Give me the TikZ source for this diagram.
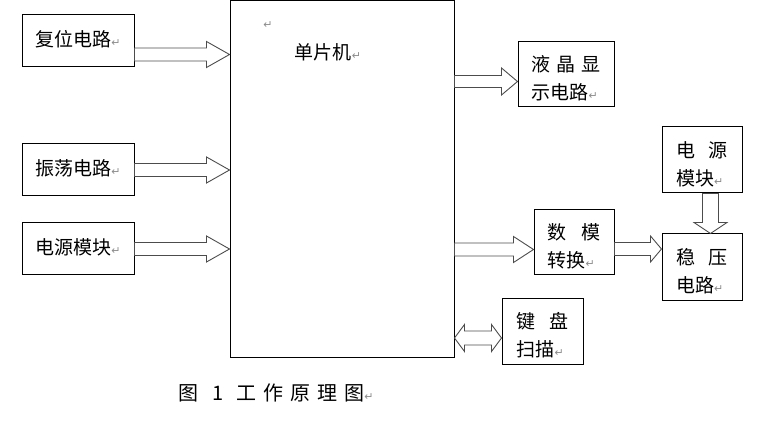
\documentclass[tikz,border=0pt]{standalone}
\usepackage{fontspec}
\setmainfont{Noto Sans CJK SC}
\newfontfamily\dejavu{DejaVu Sans}
\usetikzlibrary{calc}
\newcommand{\ret}{{\dejavu\fontsize{11}{11}\selectfont\color{black!45}↵}}
\tikzset{
  hl/.store in=\arrhl, hw/.store in=\arrhw, sw/.store in=\arrsw,
  hl=23pt, hw=13pt, sw=6.5pt,
  box/.style={draw, line width=1pt, inner sep=0pt},
  txt/.style={inner sep=0pt, align=left, font=\fontsize{19}{28}\selectfont},
  fat/.style={draw=black!70, line width=0.9pt, to path={
    let \p1=(\tikztostart), \p2=(\tikztotarget), \p3=($(\p2)!\arrhl!(\p1)$) in
    -- ($(\p1)!\arrsw!90:(\p2)$) -- ($(\p3)!\arrsw!90:(\p2)$) -- ($(\p3)!\arrhw!90:(\p2)$) -- (\p2)
    -- ($(\p3)!\arrhw!-90:(\p2)$) -- ($(\p3)!\arrsw!-90:(\p2)$) -- ($(\p1)!\arrsw!-90:(\p2)$) -- cycle}},
  fatboth/.style={draw=black!70, line width=0.9pt, to path={
    let \p1=(\tikztostart), \p2=(\tikztotarget), \p3=($(\p1)!\arrhl!(\p2)$), \p4=($(\p2)!\arrhl!(\p1)$) in
    -- ($(\p3)!\arrhw!90:(\p2)$) -- ($(\p3)!\arrsw!90:(\p2)$) -- ($(\p4)!\arrsw!90:(\p2)$) -- ($(\p4)!\arrhw!90:(\p2)$) -- (\p2)
    -- ($(\p4)!\arrhw!-90:(\p2)$) -- ($(\p4)!\arrsw!-90:(\p2)$) -- ($(\p3)!\arrsw!-90:(\p2)$) -- ($(\p3)!\arrhw!-90:(\p2)$) -- cycle}}
}
\begin{document}
\begin{tikzpicture}[x=1pt, y=-1pt]
    \useasboundingbox (0,0) rectangle (764,433);
    \node[box, minimum width=224pt, minimum height=356pt] (mcu) at (342,179) {};
    \node[txt] (mcutext) at (328,52) {单片机\ret};
    \node (mcuret) at (268,25) {\ret};
    \node[box, minimum width=112pt, minimum height=52pt] (fuwei) at (78,41) {};
    \node[box, minimum width=112pt, minimum height=52pt] (zd) at (78,170) {};
    \node[box, minimum width=112pt, minimum height=52pt] (dy) at (78,249) {};
    \node[box, minimum width=96pt, minimum height=65pt] (lcd) at (566,74.5) {};
    \node[box, minimum width=80pt, minimum height=66pt] (pwr) at (702,160) {};
    \node[box, minimum width=80pt, minimum height=65pt] (dac) at (574,242.5) {};
    \node[box, minimum width=80pt, minimum height=66pt] (wy) at (702,267) {};
    \node[box, minimum width=81pt, minimum height=66pt] (kb) at (542.5,331) {};
    \node[txt] (fuweitext) at ([yshift=2pt]fuwei) {复位电路\ret};
    \node[txt] (zdtext) at ([yshift=2pt]zd) {振荡电路\ret};
    \node[txt] (dytext) at ([yshift=2pt]dy) {电源模块\ret};
    \node[txt] (lcdtext) at ([yshift=-4pt]lcd) {液\hspace{6pt}晶\hspace{6pt}显\\示电路\ret};
    \node[txt] (pwrtext) at ([yshift=-4pt]pwr) {电\hspace{14pt}源\\模块\ret};
    \node[txt] (dactext) at ([yshift=-4pt]dac) {数\hspace{15pt}模\\转换\ret};
    \node[txt] (wytext) at ([yshift=-4pt]wy) {稳\hspace{14pt}压\\电路\ret};
    \node[txt] (kbtext) at ([yshift=-4pt]kb) {键\hspace{14pt}盘\\扫描\ret};
    \node[font=\fontsize{20}{24}\selectfont, anchor=west, inner sep=0pt] (cap) at (178,393)
        {图\hspace{14pt}1\hspace{13pt}工\hspace{7pt}作\hspace{7pt}原\hspace{7pt}理\hspace{7pt}图\ret};
    \draw[fat] ([yshift=-13.5pt]fuwei.east) to ([yshift=-13.5pt]fuwei.east -| mcu.west);
    \draw[fat] (zd.east) to (zd.east -| mcu.west);
    \draw[fat] (dy.east) to (dy.east -| mcu.west);
    \draw[fat, hl=16pt, hw=13.5pt, sw=6pt] ([yshift=-7pt]lcd.west -| mcu.east) to ([yshift=-7pt]lcd.west);
    \draw[fat, hl=20pt] ([yshift=-7pt]dac.west -| mcu.east) to ([yshift=-7pt]dac.west);
    \draw[fat, hl=11pt] ([yshift=-6.5pt]dac.east) to ([yshift=-6.5pt]dac.east -| wy.west);
    \draw[fat, hl=11pt, hw=16.5pt, sw=8pt] ([xshift=8.5pt]pwr.south) to ([xshift=8.5pt]pwr.south |- wy.north);
    \draw[fatboth, hl=10pt, hw=13.5pt, sw=7pt] ([yshift=-7pt]kb.west -| mcu.east) to ([yshift=-7pt]kb.west);
\end{tikzpicture}
\end{document}
